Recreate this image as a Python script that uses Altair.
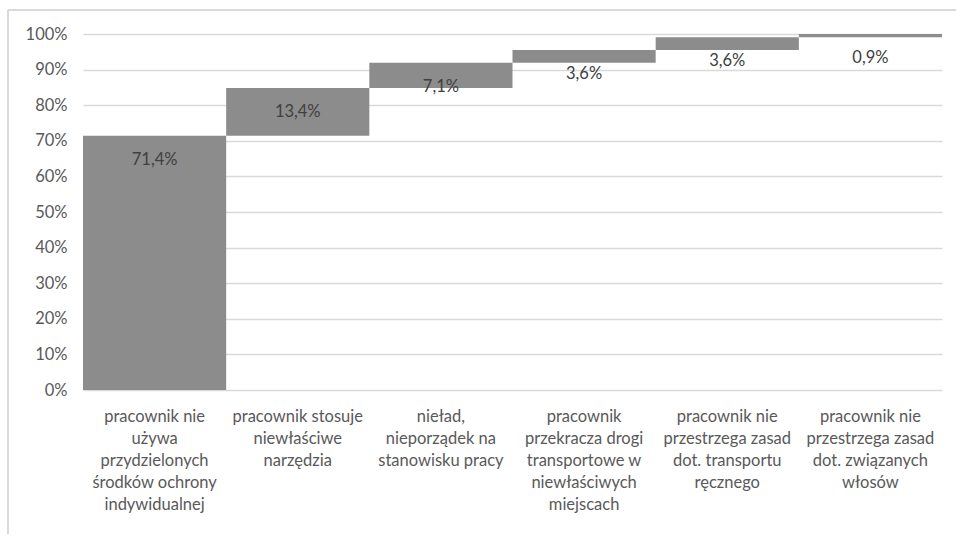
import altair as alt
import pandas as pd

categories = [
    "pracownik nie\nużywa\nprzydzielonych\nśrodków ochrony\nindywidualnej",
    "pracownik stosuje\nniewłaściwe\nnarzędzia",
    "nieład,\nnieporządek na\nstanowisku pracy",
    "pracownik\nprzekracza drogi\ntransportowe w\nniewłaściwych\nmiejscach",
    "pracownik nie\nprzestrzega zasad\ndot. transportu\nręcznego",
    "pracownik nie\nprzestrzega zasad\ndot. związanych\nwłosów",
]
values = [71.4, 13.4, 7.1, 3.6, 3.6, 0.9]
y_ticks = [0, 10, 20, 30, 40, 50, 60, 70, 80, 90, 100]

ends = pd.Series(values).cumsum().round(1)
df = pd.DataFrame({
    "category": categories,
    "value": values,
    "end": ends.tolist(),
})
df["start"] = df["end"] - df["value"]
df["label"] = [f"{v:.1f}".replace(".", ",") + "%" for v in values]

FONT = "Lato, Open Sans, sans-serif"
TEXT_COLOR = "#595959"

x_axis = alt.Axis(
    title=None, labelAngle=0, labelExpr="split(datum.label, '\\n')",
    labelFontSize=16.5, labelLineHeight=22, labelColor=TEXT_COLOR,
    labelFont=FONT, labelPadding=18, ticks=False, domain=False,
    labelBaseline="top", labelLimit=200,
)
y_axis = alt.Axis(
    title=None, values=y_ticks, labelExpr="datum.value + '%'",
    labelFontSize=16.5, labelColor=TEXT_COLOR, labelFont=FONT,
    labelPadding=16, ticks=False, domain=False, labelOverlap=False,
    grid=True, gridColor="#d9d9d9", gridWidth=1.5,
)
x_scale = alt.Scale(paddingInner=0, paddingOuter=0)
y_scale = alt.Scale(domain=[0, 100], nice=False)

bars = alt.Chart(df).mark_bar(color="#8c8c8c").encode(
    x=alt.X("category:N", sort=categories, scale=x_scale, axis=x_axis),
    y=alt.Y("start:Q", scale=y_scale, axis=y_axis),
    y2="end:Q",
)

labels = alt.Chart(df).mark_text(
    fontSize=16.5, color="#404040", font=FONT, baseline="middle", dy=24
).encode(
    x=alt.X("category:N", sort=categories, scale=x_scale, axis=x_axis),
    y=alt.Y("end:Q", scale=y_scale, axis=y_axis),
    text="label:N",
)

frame_top = alt.Chart(df).mark_rule(color="#d9d9d9", strokeWidth=1).encode(
    x=alt.value(-75), x2=alt.value(880), y=alt.value(-24)
)
frame_left = alt.Chart(df).mark_rule(color="#d9d9d9", strokeWidth=1).encode(
    x=alt.value(-75), y=alt.value(-24), y2=alt.value(500)
)

chart = alt.layer(frame_top, frame_left, bars, labels).properties(
    width=859,
    height=356,
    autosize="none",
    padding={"left": 83, "top": 34, "right": 14, "bottom": 149},
    background="white",
).configure_view(stroke=None)

chart.save("out.html", embed_options={"renderer": "svg", "actions": False})
